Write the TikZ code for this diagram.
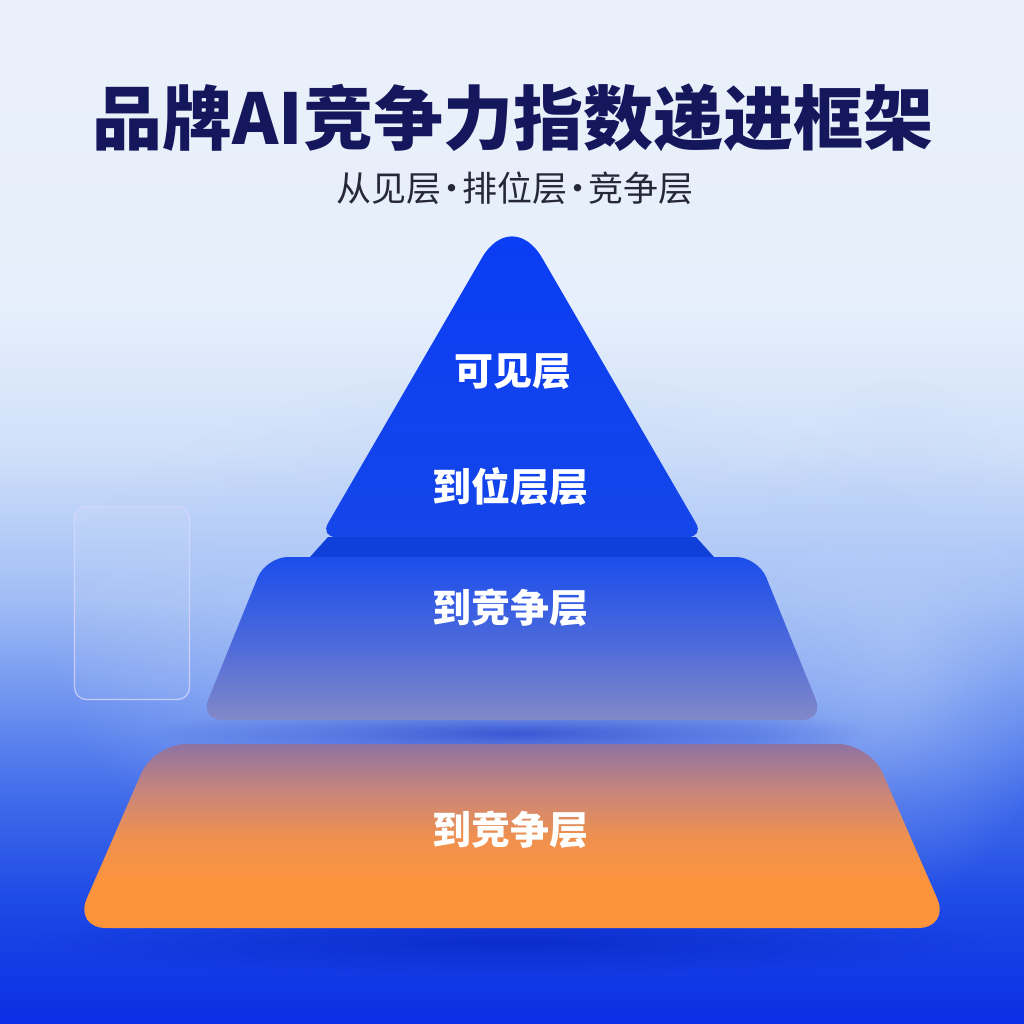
\documentclass[tikz,border=0pt]{standalone}
\usepackage{fontspec}
\newfontfamily\cjk{Noto Sans CJK SC}
\newfontfamily\cjkblack{Noto Sans CJK SC Black}
\usetikzlibrary{fadings}

\definecolor{bg0}{HTML}{EAF0F9}
\definecolor{bg1}{HTML}{E6EFFB}
\definecolor{bg2}{HTML}{D0E0FA}
\definecolor{bg3}{HTML}{A0BDF5}
\definecolor{bg4}{HTML}{6E93F0}
\definecolor{bg5}{HTML}{3F6AEA}
\definecolor{bg6}{HTML}{1E4AE6}
\definecolor{bg7}{HTML}{0A2EE4}
\definecolor{raylight}{HTML}{B8CFF8}
\definecolor{titlenavy}{HTML}{15175C}
\definecolor{subgray}{HTML}{26283A}
\definecolor{topblue}{HTML}{0A3CF5}
\definecolor{topblue2}{HTML}{1446EA}
\definecolor{stripblue}{HTML}{1040DA}
\definecolor{midtop}{HTML}{1C4EEC}
\definecolor{midbot}{HTML}{8288C8}
\definecolor{lowtop}{HTML}{8E72A2}
\definecolor{lowmid}{HTML}{C9857A}
\definecolor{lowmid2}{HTML}{EE9050}
\definecolor{lowbot}{HTML}{FC943E}
\definecolor{shadowblue}{HTML}{0624C0}

\pgfdeclareverticalshading{bgshade}{100bp}{color(0bp)=(bg7); color(25bp)=(bg7);
  color(31bp)=(bg6); color(35.9bp)=(bg5); color(40.8bp)=(bg4); color(45.7bp)=(bg3);
  color(53bp)=(bg2); color(60.3bp)=(bg1); color(75bp)=(bg0); color(100bp)=(bg0)}
\pgfdeclareverticalshading{lowshade}{100bp}{color(0bp)=(lowbot); color(25bp)=(lowbot);
  color(38bp)=(lowbot); color(50bp)=(lowmid2); color(62bp)=(lowmid); color(75bp)=(lowtop);
  color(100bp)=(lowtop)}
\tikzfading[name=glow, inner color=transparent!0, outer color=transparent!100]

\newcommand{\sdot}{\kern-0.2em·\kern-0.2em}

\begin{document}
\begin{tikzpicture}[x=0.5pt,y=-0.5pt]
  \tikzstyle{every node}=[inner sep=0pt]
  \tikzstyle{tierlabel}=[text=white,font=\cjk\bfseries\fontsize{19.5}{20}\selectfont]
  \useasboundingbox (0,0) rectangle (1024,1024);

%% background
  \shade[shading=bgshade] (0,0) rectangle (1024,1024);
  \fill[raylight,path fading=glow,fill opacity=0.7] (512,640) ellipse (470 and 270);
  \fill[raylight,path fading=glow,fill opacity=0.5] (900,640) ellipse (160 and 260);

%% title
  \node[text=titlenavy,font=\cjkblack\fontsize{35}{37}\selectfont] (title) at (513,118) {品牌AI竞争力指数递进框架};
  \node[text=subgray,font=\cjk\fontsize{17.5}{18}\selectfont] (subtitle) at (515,188) {从见层\sdot 排位层\sdot 竞争层};

%% side card
  \node[draw=white!85!blue,line width=0.6pt,fill=white,fill opacity=0.08,draw opacity=0.8,
        rounded corners=6pt,minimum width=57.5pt,minimum height=96.5pt] (card) at (132,603) {};

%% shadows
  \fill[shadowblue,path fading=glow,opacity=0.6] (512,733) ellipse (360 and 30);
  \fill[shadowblue,path fading=glow,opacity=0.7] (512,942) ellipse (480 and 34);

%% top tier
  \shade[top color=topblue,bottom color=topblue2]
    (512,537) [rounded corners=8pt] -- (320,537) [rounded corners=30pt] -- (512,206)
    [rounded corners=8pt] -- (704,537) -- cycle;
  \fill[stripblue] (328,537) -- (696,537) -- (714,557) -- (310,557) -- cycle;

%% middle tier
  \shade[top color=midtop,bottom color=midbot,middle color=midtop!55!midbot,rounded corners=11pt]
    (266,557) -- (758,557) -- (824,720) -- (200,720) -- cycle;

%% bottom tier
  \shade[shading=lowshade,rounded corners=16pt]
    (154,744) -- (870,744) -- (950,928) -- (74,928) -- cycle;

%% labels
  \node[tierlabel] (visible)  at (513,372) {可见层};
  \node[tierlabel] (rank)     at (510,487) {到位层层};
  \node[tierlabel] (compete1) at (510,608) {到竞争层};
  \node[tierlabel] (compete2) at (510,830) {到竞争层};
\end{tikzpicture}
\end{document}
